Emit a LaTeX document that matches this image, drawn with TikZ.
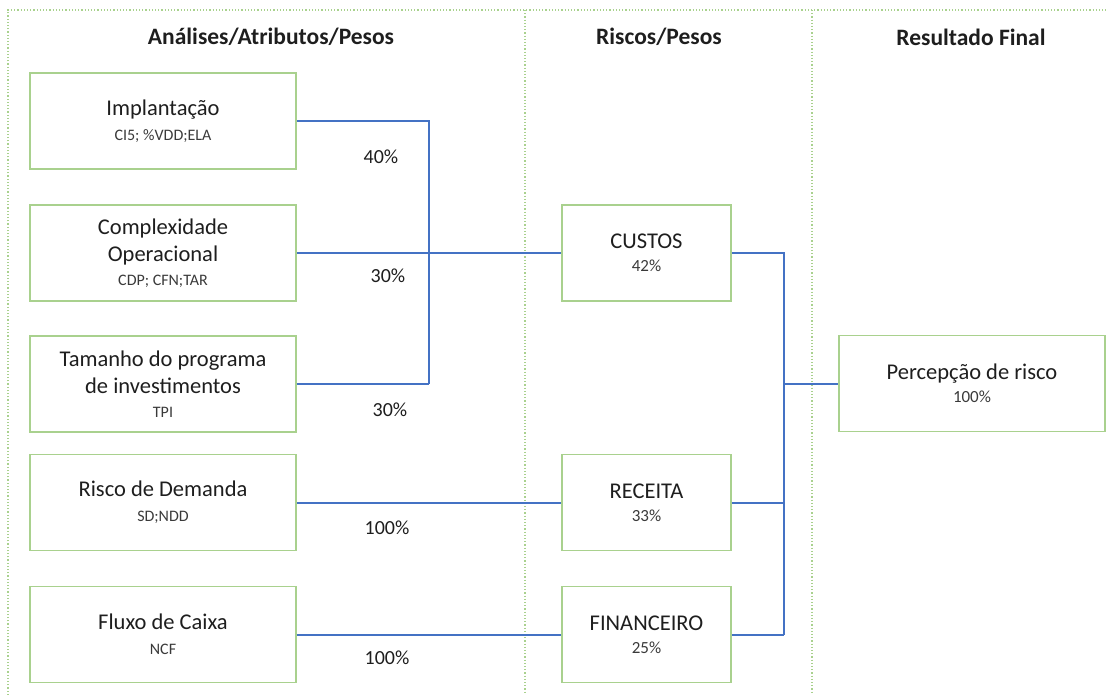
\documentclass[tikz,border=0pt]{standalone}
\usepackage{fontspec}
\setmainfont{Carlito}
\definecolor{boxgreen}{HTML}{A9D18E}
\definecolor{lineblue}{HTML}{4472C4}
\definecolor{txt}{HTML}{1E1E1E}
\definecolor{subtxt}{HTML}{3A3A3A}
\newcommand{\subt}[1]{{\fontsize{16}{19}\selectfont\color{subtxt}#1}}
\newcommand{\subp}[1]{{\fontsize{17}{20}\selectfont\color{subtxt}#1}}
\begin{document}
\begin{tikzpicture}[x=1pt,y=-1pt,
  box/.style={draw=boxgreen,line width=1.5pt,rectangle,minimum width=266pt,minimum height=96pt,align=center,text=txt,font=\fontsize{22.5}{27}\selectfont,inner sep=0pt},
  midbox/.style={box,minimum width=169pt},
  conn/.style={draw=lineblue,line width=2pt},
  pct/.style={text=txt,font=\fontsize{20}{24}\selectfont,inner sep=0pt},
  head/.style={text=txt,font=\fontsize{23.5}{28}\selectfont\bfseries,inner sep=0pt},
  frame/.style={draw=boxgreen,line width=1.2pt,dotted}]
\useasboundingbox (0,0) rectangle (1106,695);
% frame
\draw[frame] (8,695) -- (8,10) -- (1106,10);
\draw[frame] (525,10) -- (525,695);
\draw[frame] (812,10) -- (812,695);
% headings
\node[head] (h1) at (271,37) {Análises/Atributos/Pesos};
\node[head] (h2) at (659,37) {Riscos/Pesos};
\node[head] (h3) at (971,37) {Resultado Final};
% left boxes
\node[box] (impl) at (163,121) {Implantação\\[-2pt]\subt{CI5; \%VDD;ELA}};
\node[box] (comp) at (163,253) {Complexidade\\Operacional\\[-3pt]\subt{CDP; CFN;TAR}};
\node[box] (tam) at (163,384) {Tamanho do programa\\de investimentos\\[-3pt]\subt{TPI}};
\node[box] (dem) at (163,502.5) {Risco de Demanda\\[-2pt]\subt{SD;NDD}};
\node[box] (flux) at (163,634.5) {Fluxo de Caixa\\[-2pt]\subt{NCF}};
% middle boxes
\node[midbox] (cust) at (646.5,253) {CUSTOS\\[-4pt]\subp{42\%}};
\node[midbox] (rec) at (646.5,502.5) {RECEITA\\[-4pt]\subp{33\%}};
\node[midbox] (fin) at (646.5,634.5) {FINANCEIRO\\[-4pt]\subp{25\%}};
% right box
\node[box] (perc) at (972,383.5) {Percepção de risco\\[-4pt]\subp{100\%}};
% junction coordinates
\coordinate (j1) at (429,121);
\coordinate (j2) at (429,384);
\coordinate (k1) at (784,253);
\coordinate (k2) at (784,634.5);
% connectors
\draw[conn] (impl.east) -- (j1) -- (j2);
\draw[conn] (tam.east) -- (j2);
\draw[conn] (comp.east) -- (cust.west);
\draw[conn] (dem.east) -- (rec.west);
\draw[conn] (flux.east) -- (fin.west);
\draw[conn] (cust.east) -- (k1) -- (k2);
\draw[conn] (rec.east) -- (rec.east -| k1);
\draw[conn] (fin.east) -- (k2);
\draw[conn] (perc.west -| k1) -- (perc.west);
% percentages
\node[pct] (p1) at (381,157) {40\%};
\node[pct] (p2) at (388,276) {30\%};
\node[pct] (p3) at (390,410) {30\%};
\node[pct] (p4) at (387,528) {100\%};
\node[pct] (p5) at (387,658) {100\%};
\end{tikzpicture}
\end{document}
